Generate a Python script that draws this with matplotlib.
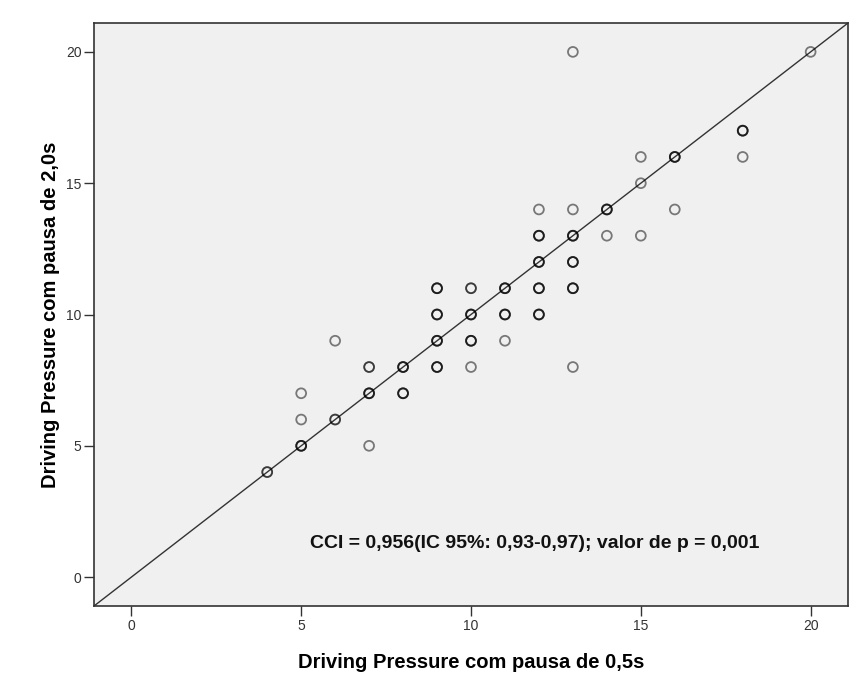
import matplotlib
matplotlib.use('Agg')
import matplotlib.pyplot as plt

plt.rcParams['font.family'] = ['Liberation Sans', 'DejaVu Sans']

# pontos (x = pausa 0,5s, y = pausa 2,0s) e quantas vezes cada par aparece
dp_05 = [4, 5, 5, 5, 6, 6, 7, 7, 7, 8, 8,
         9, 9, 9, 9, 10, 10, 10, 10, 11, 11, 11,
         12, 12, 12, 12, 12, 13, 13, 13, 13, 13, 13,
         14, 14, 15, 15, 15, 16, 16, 18, 18, 20]
dp_20 = [4, 5, 6, 7, 6, 9, 5, 7, 8, 7, 8,
         8, 9, 10, 11, 8, 9, 10, 11, 9, 10, 11,
         10, 11, 12, 13, 14, 8, 11, 12, 13, 14, 20,
         13, 14, 13, 15, 16, 14, 16, 16, 17, 20]
n_obs = [2, 3, 1, 1, 2, 1, 1, 3, 2, 3, 3,
         3, 3, 3, 3, 1, 3, 3, 2, 1, 3, 3,
         3, 3, 3, 3, 1, 1, 3, 3, 3, 1, 1,
         1, 3, 1, 1, 1, 1, 3, 1, 3, 1]

annot = 'CCI = 0,956(IC 95%: 0,93-0,97); valor de p = 0,001'

fig = plt.figure(figsize=(8.52, 6.91), dpi=100)
ax = fig.add_axes([94 / 852, 85 / 691, 754 / 852, 583 / 691])
ax.set_facecolor('#f0f0f0')

# linha de referencia y = x
lim = (-1.1, 21.1)
ax.plot(lim, lim, color='#333333', linewidth=1.0, zorder=2)

# pontos repetidos ficam mais escuros por sobreposicao
for x, y, n in zip(dp_05, dp_20, n_obs):
    for _ in range(n):
        ax.scatter(x, y, s=50, facecolors='none', edgecolors='black',
                   linewidths=1.3, alpha=0.5, zorder=3)

ax.set_xlim(lim)
ax.set_ylim(lim)
ax.set_xticks([0, 5, 10, 15, 20])
ax.set_yticks([0, 5, 10, 15, 20])
ax.tick_params(direction='out', length=7, width=1.0, color='#333333',
               labelsize=10, labelcolor='#333333', pad=2)

for sp in ax.spines.values():
    sp.set_color('#333333')
    sp.set_linewidth(1.2)

ax.set_xlabel('Driving Pressure com pausa de 0,5s', fontsize=14.5,
              fontweight='bold', labelpad=15)
ax.set_ylabel('Driving Pressure com pausa de 2,0s', fontsize=14.5,
              fontweight='bold', labelpad=4)

ax.text(0.584, 0.108, annot, transform=ax.transAxes, ha='center', va='center',
        fontsize=14, fontweight='bold', color='#111111')

fig.savefig('out.png', dpi=100)
